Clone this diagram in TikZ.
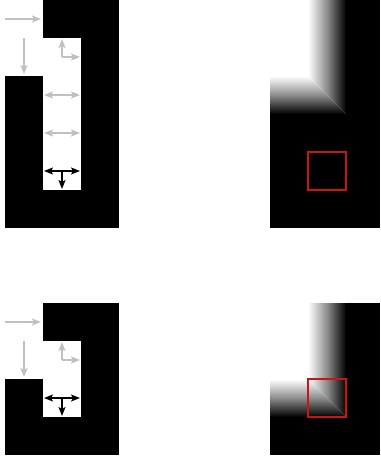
\documentclass[tikz,border=0pt]{standalone}
\usepackage{xcolor}
\usepackage{tikz}
\usetikzlibrary{arrows.meta}
\definecolor{mzWall}{HTML}{000000}
\definecolor{mzFlow}{HTML}{C0C0C0}
\definecolor{mzProbe}{HTML}{CC1414}
\tikzset{
  wall/.style={fill=mzWall},
  flow/.style={-{Stealth[length=9pt,width=7pt,inset=2pt]},line width=1.8pt,color=mzFlow},
  flowb/.style={{Stealth[length=9pt,width=7pt,inset=2pt]}-{Stealth[length=9pt,width=7pt,inset=2pt]},
    line width=1.8pt,color=mzFlow},
  hot/.style={-{Stealth[length=9pt,width=7pt,inset=2pt]},line width=1.5pt,color=mzWall},
  hotb/.style={{Stealth[length=9pt,width=7pt,inset=2pt]}-{Stealth[length=9pt,width=7pt,inset=2pt]},
    line width=1.5pt,color=mzWall},
  hfade/.style={left color=white,right color=black,middle color=white!55!black},
  vfade/.style={top color=white,bottom color=black,middle color=white!55!black},
  probe/.style={draw=mzProbe,line width=1.2pt},
}
\begin{document}
\begin{tikzpicture}[x=1pt,y=-1pt]
  \useasboundingbox (0,0) rectangle (380,460);

  % cell anchors: centre and edge midpoints of each 38pt cell
  \foreach \c in {0,1,2} {
    \foreach \r in {0,...,5} {
      \coordinate (a\c\r)  at ({24+38*\c},{19+38*\r});
      \coordinate (a\c\r w) at ({5+38*\c},{19+38*\r});
      \coordinate (a\c\r e) at ({43+38*\c},{19+38*\r});
      \coordinate (a\c\r n) at ({24+38*\c},{38*\r});
      \coordinate (a\c\r s) at ({24+38*\c},{38+38*\r});
    }
    \foreach \r in {0,...,3} {
      \coordinate (b\c\r)  at ({24+38*\c},{322+38*\r});
      \coordinate (b\c\r w) at ({5+38*\c},{322+38*\r});
      \coordinate (b\c\r e) at ({43+38*\c},{322+38*\r});
      \coordinate (b\c\r n) at ({24+38*\c},{303+38*\r});
      \coordinate (b\c\r s) at ({24+38*\c},{341+38*\r});
    }
  }

  % top maze
  \fill[wall] (43,0) rectangle (119,38);
  \fill[wall] (81,38) rectangle (119,190);
  \fill[wall] (5,76) rectangle (43,190);
  \fill[wall] (5,190) rectangle (119,228);

  \draw[flow,shorten >=2pt] (a00w) -- (a00e);
  \draw[flow,shorten >=2pt] (a01n) -- (a01s);
  \draw[flow,shorten >=1pt] (a11) -- (a11n);
  \draw[flow,shorten >=1pt] (a11) -- (a11e);
  \draw[flowb,shorten <=1pt,shorten >=1pt] (a12w) -- (a12e);
  \draw[flowb,shorten <=1pt,shorten >=1pt] (a13w) -- (a13e);
  \draw[hotb,shorten <=1pt,shorten >=1pt] (a14w) -- (a14e);
  \draw[hot,shorten >=1pt] (a14) -- (a14s);

  % top field
  \shade[hfade] (308,0) rectangle (346,76);
  \shade[vfade] (270,76) rectangle (308,114);
  \shade[hfade] (308,76) -- (346,76) -- (346,114) -- cycle;
  \shade[vfade] (308,76) -- (308,114) -- (346,114) -- cycle;
  \fill[wall] (346,0) rectangle (380,228);
  \fill[wall] (270,114) rectangle (346,228);
  \draw[probe] (308,152) rectangle (346,190);

  % bottom maze
  \fill[wall] (43,303) rectangle (119,341);
  \fill[wall] (81,341) rectangle (119,417);
  \fill[wall] (5,379) rectangle (43,417);
  \fill[wall] (5,417) rectangle (119,455);

  \draw[flow,shorten >=2pt] (b00w) -- (b00e);
  \draw[flow,shorten >=2pt] (b01n) -- (b01s);
  \draw[flow,shorten >=1pt] (b11) -- (b11n);
  \draw[flow,shorten >=1pt] (b11) -- (b11e);
  \draw[hotb,shorten <=1pt,shorten >=1pt] (b12w) -- (b12e);
  \draw[hot,shorten >=1pt] (b12) -- (b12s);

  % bottom field
  \shade[hfade] (308,303) rectangle (346,379);
  \shade[vfade] (270,379) rectangle (308,417);
  \shade[hfade] (308,379) -- (346,379) -- (346,417) -- cycle;
  \shade[vfade] (308,379) -- (308,417) -- (346,417) -- cycle;
  \fill[wall] (346,303) rectangle (380,455);
  \fill[wall] (270,417) rectangle (346,455);
  \draw[probe] (308,379) rectangle (346,417);
\end{tikzpicture}
\end{document}
